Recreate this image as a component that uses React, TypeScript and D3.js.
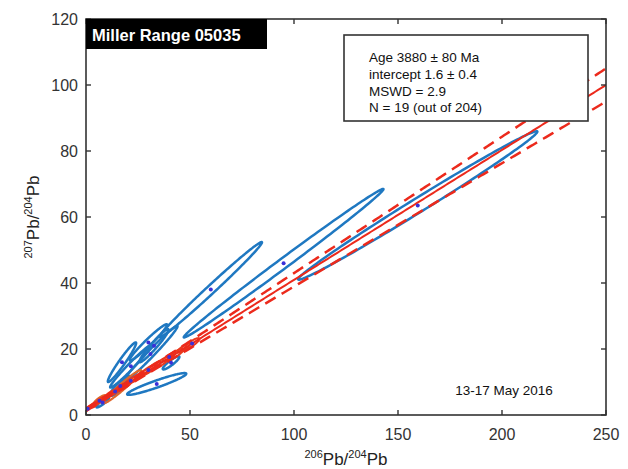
import React, { useEffect, useRef } from 'react';
import * as d3 from 'd3';

// axis ticks
const xTicks = [0, 50, 100, 150, 200, 250];
const yTicks = [0, 20, 40, 60, 80, 100, 120];

// blue error ellipses (centre, half extent along x / y, correlation)
const blueX = [60, 95, 159.5, 17.3, 34, 31, 30, 32.7, 21.6, 40.9, 8, 16.5];
const blueY = [38, 46, 63.5, 16, 9.4, 18.5, 22, 21, 14.8, 15.8, 3.8, 8.8];
const blueSx = [24.6, 48, 57.5, 6.8, 14.2, 13, 9, 7, 10, 4, 3, 5];
const blueSy = [14.4, 22.5, 22.5, 6, 3.3, 8.5, 5.5, 5, 6.5, 2, 1.5, 3];
const blueRho = [0.993, 0.9965, 0.9938, 0.965, 0.94, 0.985, 0.97, 0.96, 0.98, 0.9, 0.9, 0.9];

// red ellipses - the 19 points in the fit
const redX = [0.8, 2.5, 4.5, 6.5, 9, 11.5, 14, 16.5, 19, 21.5, 24, 27, 30, 33, 36.5, 40, 43.5, 47, 51];
const redY = [1.9, 2.7, 3.2, 4.3, 5.0, 6.3, 7.1, 8.3, 9.0, 10.4, 11.2, 12.4, 13.6, 14.9, 16.0, 17.6, 18.6, 20.3, 21.7];
const redSx = [1.2, 1.5, 1.5, 2, 2, 2.5, 2.2, 2.5, 3, 2.5, 3, 3, 3.5, 3, 3.5, 3, 3.5, 3, 3.5];
const redSy = [0.8, 0.8, 0.9, 1, 1, 1.2, 1.1, 1.2, 1.4, 1.2, 1.4, 1.4, 1.6, 1.4, 1.6, 1.4, 1.6, 1.4, 1.6];

// orange ellipses
const orangeX = [17.5, 6.5];
const orangeY = [8.6, 4.5];
const orangeSx = [9, 3];
const orangeSy = [5, 1.5];
const orangeRho = [0.97, 0.85];

// isochron fit
const fitIntercept = 1.6;
const fitSlope = 0.3936;
const sigIntercept = 0.4;
const sigSlope = 0.02;

const legendLines = ['Age 3880 \u00b1 80 Ma', 'intercept 1.6 \u00b1 0.4', 'MSWD = 2.9', 'N = 19 (out of 204)'];

const W = 628;
const H = 469;
const font = '"Liberation Sans", Arial, Helvetica, sans-serif';

export default function App() {
  const ref = useRef<SVGSVGElement>(null);

  useEffect(() => {
    const svg = d3.select(ref.current);
    svg.selectAll('*').remove();

    const x = d3.scaleLinear().domain([0, 250]).range([86, 606]);
    const y = d3.scaleLinear().domain([0, 120]).range([415, 19]);

    svg.append('defs').append('clipPath').attr('id', 'plot')
      .append('rect')
      .attr('x', x(0)).attr('y', y(120))
      .attr('width', x(250) - x(0)).attr('height', y(0) - y(120));

    const g = svg.append('g').attr('clip-path', 'url(#plot)');

    const ellipsePath = (cx: number, cy: number, sx: number, sy: number, r: number) => {
      const pts = d3.range(0, 2 * Math.PI, Math.PI / 90).map(t => [
        cx + sx * Math.cos(t),
        cy + sy * (r * Math.cos(t) + Math.sqrt(1 - r * r) * Math.sin(t))
      ]);
      return d3.line<number[]>()
        .x(d => x(d[0]))
        .y(d => y(d[1]))
        .curve(d3.curveLinearClosed)(pts);
    };

    // blue ellipses
    g.selectAll('path.blue')
      .data(blueX)
      .join('path')
      .attr('class', 'blue')
      .attr('d', (d, i) => ellipsePath(d, blueY[i], blueSx[i], blueSy[i], blueRho[i]))
      .attr('fill', 'none')
      .attr('stroke', '#1f78c1')
      .attr('stroke-width', 2.5);

    // orange
    g.selectAll('path.orange')
      .data(orangeX)
      .join('path')
      .attr('class', 'orange')
      .attr('d', (d, i) => ellipsePath(d, orangeY[i], orangeSx[i], orangeSy[i], orangeRho[i]))
      .attr('fill', 'none')
      .attr('stroke', '#e0662a')
      .attr('stroke-width', 2.2);

    // red fit ellipses
    g.selectAll('path.red')
      .data(redX)
      .join('path')
      .attr('class', 'red')
      .attr('d', (d, i) => ellipsePath(d, redY[i], redSx[i], redSy[i], 0.85))
      .attr('fill', 'none')
      .attr('stroke', '#ea3a1e')
      .attr('stroke-width', 2);

    // fit line and envelope
    const xs = d3.range(0, 250.5, 1);
    const fitLine = d3.line<number>().x(d => x(d)).y(d => y(fitIntercept + fitSlope * d));
    const env = (s: number) => d3.line<number>()
      .x(d => x(d))
      .y(d => y(fitIntercept + fitSlope * d + s * Math.sqrt(sigIntercept ** 2 + (sigSlope * d) ** 2)));

    g.append('path').attr('d', fitLine(xs))
      .attr('fill', 'none').attr('stroke', '#ec2a1c').attr('stroke-width', 2);
    [1, -1].forEach(s => {
      g.append('path').attr('d', env(s)(xs))
        .attr('fill', 'none').attr('stroke', '#ec2a1c').attr('stroke-width', 2.5)
        .attr('stroke-dasharray', '12 7');
    });

    // centre dots
    const dotsX = blueX.concat(redX.filter((d, i) => i % 3 === 0));
    const dotsY = blueY.concat(redY.filter((d, i) => i % 3 === 0));
    g.selectAll('circle')
      .data(dotsX)
      .join('circle')
      .attr('cx', d => x(d))
      .attr('cy', (d, i) => y(dotsY[i]))
      .attr('r', 2)
      .attr('fill', '#3a2fd8');

    // frame
    svg.append('rect')
      .attr('x', x(0)).attr('y', y(120))
      .attr('width', x(250) - x(0)).attr('height', y(0) - y(120))
      .attr('fill', 'none').attr('stroke', '#333').attr('stroke-width', 1.6);

    // ticks inside on all four sides
    const tk = 5;
    xTicks.forEach(t => {
      svg.append('line').attr('x1', x(t)).attr('x2', x(t)).attr('y1', y(0)).attr('y2', y(0) - tk)
        .attr('stroke', '#333').attr('stroke-width', 1.4);
      svg.append('line').attr('x1', x(t)).attr('x2', x(t)).attr('y1', y(120)).attr('y2', y(120) + tk)
        .attr('stroke', '#333').attr('stroke-width', 1.4);
      svg.append('text').attr('x', x(t)).attr('y', 440)
        .attr('text-anchor', 'middle').attr('font-family', font).attr('font-size', 16)
        .attr('fill', '#333').text(t);
    });
    yTicks.forEach(t => {
      svg.append('line').attr('x1', x(0)).attr('x2', x(0) + tk).attr('y1', y(t)).attr('y2', y(t))
        .attr('stroke', '#333').attr('stroke-width', 1.4);
      svg.append('line').attr('x1', x(250)).attr('x2', x(250) - tk).attr('y1', y(t)).attr('y2', y(t))
        .attr('stroke', '#333').attr('stroke-width', 1.4);
      svg.append('text').attr('x', 78).attr('y', y(t) + 6)
        .attr('text-anchor', 'end').attr('font-family', font).attr('font-size', 16)
        .attr('fill', '#333').text(t);
    });

    // axis labels
    const xl = svg.append('text').attr('x', 346).attr('y', 465)
      .attr('text-anchor', 'middle').attr('font-family', font).attr('font-size', 17).attr('fill', '#222');
    xl.append('tspan').attr('font-size', 11).attr('dy', -7).text('206');
    xl.append('tspan').attr('dy', 7).text('Pb/');
    xl.append('tspan').attr('font-size', 11).attr('dy', -7).text('204');
    xl.append('tspan').attr('dy', 7).text('Pb');

    const yl = svg.append('text').attr('transform', 'translate(39,217) rotate(-90)')
      .attr('text-anchor', 'middle').attr('font-family', font).attr('font-size', 17).attr('fill', '#222');
    yl.append('tspan').attr('font-size', 11).attr('dy', -7).text('207');
    yl.append('tspan').attr('dy', 7).text('Pb/');
    yl.append('tspan').attr('font-size', 11).attr('dy', -7).text('204');
    yl.append('tspan').attr('dy', 7).text('Pb');

    // title box
    svg.append('rect').attr('x', x(0)).attr('y', y(120)).attr('width', 181).attr('height', 30)
      .attr('fill', '#000');
    svg.append('text').attr('x', 92).attr('y', 41)
      .attr('font-family', font).attr('font-size', 16.5).attr('font-weight', 'bold')
      .attr('fill', '#fff').text('Miller Range 05035');

    // legend box
    svg.append('rect').attr('x', 344).attr('y', 35).attr('width', 244).attr('height', 86)
      .attr('fill', '#fff').attr('stroke', '#333').attr('stroke-width', 1.6);
    legendLines.forEach((s, i) => {
      svg.append('text').attr('x', 369).attr('y', 62 + i * 16.8)
        .attr('font-family', font).attr('font-size', 13.5).attr('fill', '#111').text(s);
    });

    svg.append('text').attr('x', 504).attr('y', 395).attr('text-anchor', 'middle')
      .attr('font-family', font).attr('font-size', 13.5).attr('fill', '#111').text('13-17 May 2016');
  }, []);

  return (
    <svg ref={ref} width={W} height={H}
      style={{ position: 'absolute', left: 0, top: 0, background: '#fff' }} />
  );
}
